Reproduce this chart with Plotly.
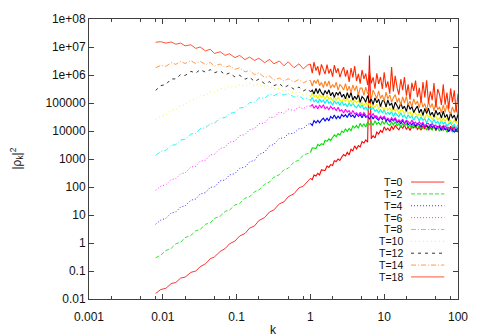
import plotly.graph_objects as go

# wavenumbers k (shared by every time step)
k_values = [
    0.008, 0.0094, 0.011, 0.013, 0.015, 0.0175, 0.02, 0.024, 0.028, 0.032,
    0.038, 0.044, 0.05, 0.06, 0.07, 0.08, 0.095, 0.11, 0.13, 0.15,
    0.175, 0.2, 0.24, 0.28, 0.32, 0.38, 0.44, 0.5, 0.6, 0.7,
    0.8, 0.92,
    1.0, 1.06, 1.12, 1.19, 1.26, 1.33, 1.41, 1.50, 1.58, 1.68,
    1.78, 1.88, 2.0, 2.11, 2.24, 2.37, 2.51, 2.66, 2.82, 2.99,
    3.16, 3.35, 3.55, 3.76, 3.98, 4.22, 4.47, 4.73, 5.01, 5.31,
    5.62, 5.96, 6.31, 6.68, 7.08, 7.5, 7.94, 8.41, 8.91, 9.44,
    10, 10.6, 11.2, 11.9, 12.6, 13.3, 14.1, 15.0, 15.8, 16.8,
    17.8, 18.8, 20.0, 21.1, 22.4, 23.7, 25.1, 26.6, 28.2, 29.9,
    31.6, 33.5, 35.5, 37.6, 39.8, 42.2, 44.7, 47.3, 50.1, 53.1,
    56.2, 59.6, 63.1, 66.8, 70.8, 75.0, 79.4, 84.1, 89.1, 94.4,
    100,
]

# log10 |rho_k|^2 for each time step
log10_T0 = [
    -1.80, -1.66, -1.62, -1.45, -1.41, -1.25, -1.22, -1.05, -1.00, -0.85,
    -0.74, -0.56, -0.50, -0.30, -0.20, -0.03, 0.07, 0.25, 0.34, 0.53,
    0.61, 0.80, 0.91, 1.11, 1.18, 1.40, 1.47, 1.65, 1.76, 1.97,
    2.03, 2.22,
    2.31, 2.26, 2.43, 2.39, 2.49, 2.43, 2.61, 2.60, 2.59, 2.75,
    2.70, 2.80, 2.77, 2.94, 2.91, 3.00, 2.95, 3.07, 3.16, 3.11,
    3.24, 3.15, 3.35, 3.29, 3.47, 3.36, 3.48, 3.43, 3.62, 3.57,
    3.68, 3.60, 6.70, 3.72, 3.83, 3.75, 3.96, 3.89, 4.02, 3.94,
    4.15, 4.03, 4.10, 4.00, 4.18, 4.05, 4.20, 4.10, 4.04, 4.19,
    4.09, 4.22, 4.05, 4.16, 4.02, 4.18, 4.11, 4.21, 4.06, 4.15,
    4.03, 4.19, 4.07, 4.21, 4.03, 4.13, 4.06, 4.20, 4.01, 4.16,
    4.12, 4.03, 4.20, 4.04, 4.14, 4.01, 4.17, 4.06, 4.16, 3.98,
    4.13,
]
log10_T2 = [
    -0.53, -0.43, -0.27, -0.19, -0.03, 0.03, 0.19, 0.27, 0.44, 0.48,
    0.67, 0.72, 0.88, 0.96, 1.13, 1.17, 1.36, 1.41, 1.60, 1.65,
    1.83, 1.89, 2.10, 2.18, 2.35, 2.44, 2.62, 2.67, 2.89, 2.96,
    3.14, 3.20,
    3.23, 3.40, 3.39, 3.37, 3.52, 3.47, 3.55, 3.51, 3.67, 3.63,
    3.72, 3.66, 3.77, 3.86, 3.80, 3.91, 3.85, 4.00, 3.95, 4.08,
    3.98, 4.09, 4.01, 4.18, 4.11, 4.20, 4.10, 4.28, 4.16, 4.25,
    4.14, 4.32, 4.22, 4.31, 4.20, 4.37, 4.24, 4.31, 4.21, 4.36,
    4.24, 4.36, 4.25, 4.20, 4.32, 4.22, 4.33, 4.18, 4.27, 4.13,
    4.26, 4.19, 4.27, 4.14, 4.21, 4.09, 4.23, 4.12, 4.24, 4.08,
    4.16, 4.09, 4.20, 4.03, 4.16, 4.11, 4.03, 4.18, 4.03, 4.12,
    3.99, 4.13, 4.02, 4.11, 3.95, 4.09, 4.08, 3.96, 4.11, 3.99,
    4.05,
]
log10_T4 = [
    0.67, 0.82, 0.88, 1.07, 1.11, 1.29, 1.32, 1.53, 1.57, 1.75,
    1.80, 1.99, 2.00, 2.22, 2.25, 2.43, 2.48, 2.67, 2.71, 2.90,
    2.95, 3.16, 3.25, 3.47, 3.52, 3.74, 3.75, 3.90, 3.92, 4.09,
    4.08, 4.24,
    4.27, 4.20, 4.37, 4.29, 4.38, 4.29, 4.39, 4.46, 4.36, 4.46,
    4.36, 4.52, 4.45, 4.57, 4.44, 4.53, 4.45, 4.59, 4.51, 4.58,
    4.48, 4.63, 4.51, 4.57, 4.47, 4.62, 4.52, 4.59, 4.47, 4.61,
    4.49, 4.53, 4.43, 4.55, 4.43, 4.54, 4.44, 4.39, 4.50, 4.41,
    4.50, 4.35, 4.43, 4.31, 4.43, 4.36, 4.43, 4.30, 4.36, 4.26,
    4.38, 4.27, 4.37, 4.22, 4.29, 4.22, 4.32, 4.16, 4.27, 4.23,
    4.15, 4.28, 4.14, 4.21, 4.10, 4.22, 4.13, 4.20, 4.05, 4.16,
    4.16, 4.03, 4.16, 4.05, 4.09, 3.97, 4.10, 4.04, 3.96, 4.08,
    3.96,
]
log10_T6 = [
    1.88, 2.03, 2.08, 2.27, 2.30, 2.48, 2.50, 2.71, 2.74, 2.92,
    2.96, 3.15, 3.17, 3.38, 3.42, 3.60, 3.64, 3.83, 3.87, 4.05,
    4.08, 4.26, 4.29, 4.49, 4.48, 4.68, 4.63, 4.78, 4.73, 4.86,
    4.79, 4.90,
    4.88, 4.94, 4.82, 4.90, 4.79, 4.93, 4.83, 4.94, 4.79, 4.86,
    4.76, 4.88, 4.79, 4.84, 4.72, 4.85, 4.71, 4.76, 4.64, 4.78,
    4.67, 4.73, 4.60, 4.73, 4.61, 4.65, 4.55, 4.67, 4.55, 4.66,
    4.56, 4.51, 4.62, 4.53, 4.62, 4.47, 4.54, 4.42, 4.53, 4.46,
    4.53, 4.40, 4.46, 4.36, 4.48, 4.38, 4.48, 4.33, 4.40, 4.33,
    4.43, 4.27, 4.38, 4.34, 4.26, 4.39, 4.25, 4.32, 4.21, 4.33,
    4.24, 4.31, 4.16, 4.27, 4.27, 4.15, 4.28, 4.17, 4.21, 4.09,
    4.22, 4.16, 4.08, 4.20, 4.08, 4.13, 4.03, 4.17, 4.06, 4.13,
    4.01,
]
log10_T8 = [
    3.13, 3.27, 3.31, 3.49, 3.51, 3.68, 3.70, 3.89, 3.92, 4.08,
    4.11, 4.27, 4.28, 4.46, 4.48, 4.63, 4.66, 4.82, 4.85, 5.01,
    5.03, 5.18, 5.17, 5.32, 5.26, 5.37, 5.28, 5.34, 5.21, 5.26,
    5.14, 5.18,
    5.08, 5.20, 5.04, 5.11, 5.00, 5.14, 5.04, 5.10, 4.98, 5.13,
    4.99, 5.05, 4.92, 5.08, 4.97, 5.04, 4.91, 5.06, 4.92, 4.97,
    4.87, 5.01, 4.88, 5.00, 4.89, 4.83, 4.94, 4.84, 4.94, 4.78,
    4.86, 4.72, 4.84, 4.77, 4.84, 4.70, 4.76, 4.64, 4.77, 4.65,
    4.76, 4.59, 4.67, 4.59, 4.70, 4.52, 4.65, 4.59, 4.51, 4.65,
    4.50, 4.57, 4.44, 4.58, 4.47, 4.54, 4.38, 4.51, 4.50, 4.36,
    4.51, 4.38, 4.44, 4.29, 4.44, 4.37, 4.29, 4.41, 4.28, 4.34,
    4.22, 4.37, 4.25, 4.31, 4.18, 4.25, 4.30, 4.16, 4.24, 4.09,
    4.23,
]
log10_T10 = [
    4.40, 4.53, 4.57, 4.74, 4.76, 4.92, 4.93, 5.11, 5.13, 5.27,
    5.26, 5.40, 5.37, 5.51, 5.48, 5.60, 5.56, 5.66, 5.60, 5.70,
    5.62, 5.69, 5.57, 5.62, 5.49, 5.52, 5.41, 5.48, 5.34, 5.39,
    5.28, 5.34,
    5.21, 5.36, 5.22, 5.28, 5.15, 5.31, 5.19, 5.26, 5.13, 5.28,
    5.14, 5.19, 5.08, 5.22, 5.09, 5.21, 5.10, 5.04, 5.16, 5.06,
    5.17, 5.01, 5.10, 4.96, 5.09, 5.02, 5.09, 4.95, 5.01, 4.89,
    5.03, 4.90, 5.02, 4.85, 4.92, 4.85, 4.96, 4.77, 4.90, 4.84,
    4.76, 4.90, 4.74, 4.82, 4.69, 4.82, 4.71, 4.79, 4.62, 4.75,
    4.74, 4.61, 4.75, 4.62, 4.68, 4.53, 4.68, 4.61, 4.52, 4.65,
    4.52, 4.58, 4.45, 4.61, 4.49, 4.54, 4.41, 4.49, 4.53, 4.39,
    4.47, 4.33, 4.46, 4.35, 4.47, 4.30, 4.37, 4.26, 4.39, 4.29,
    4.35,
]
log10_T12 = [
    5.45, 5.62, 5.66, 5.86, 5.86, 6.02, 5.98, 6.13, 6.07, 6.19,
    6.10, 6.19, 6.08, 6.15, 6.01, 6.07, 5.93, 5.99, 5.85, 5.92,
    5.77, 5.85, 5.69, 5.76, 5.62, 5.69, 5.55, 5.63, 5.49, 5.57,
    5.43, 5.51,
    5.40, 5.46, 5.32, 5.52, 5.34, 5.51, 5.37, 5.28, 5.45, 5.32,
    5.47, 5.26, 5.38, 5.20, 5.38, 5.29, 5.40, 5.21, 5.31, 5.15,
    5.37, 5.18, 5.38, 5.10, 5.24, 5.13, 5.32, 5.02, 5.23, 5.16,
    5.03, 5.26, 5.01, 5.15, 4.94, 5.18, 5.01, 5.14, 4.87, 5.08,
    5.08, 4.86, 5.11, 4.91, 5.00, 4.77, 5.03, 4.92, 4.78, 5.01,
    4.79, 4.89, 4.70, 4.97, 4.77, 4.88, 4.66, 4.79, 4.89, 4.65,
    4.78, 4.56, 4.81, 4.62, 4.82, 4.56, 4.67, 4.50, 4.74, 4.57,
    4.67, 4.46, 4.71, 4.48, 4.59, 4.37, 4.65, 4.46, 4.57, 4.35,
    4.61,
]
log10_T14 = [
    6.26, 6.34, 6.31, 6.44, 6.38, 6.49, 6.41, 6.51, 6.41, 6.49,
    6.37, 6.45, 6.32, 6.39, 6.27, 6.33, 6.20, 6.26, 6.11, 6.17,
    6.01, 6.08, 5.91, 5.96, 5.82, 5.89, 5.78, 5.87, 5.75, 5.84,
    5.72, 5.80,
    5.81, 5.60, 5.81, 5.71, 5.84, 5.62, 5.73, 5.55, 5.78, 5.60,
    5.79, 5.53, 5.66, 5.55, 5.74, 5.46, 5.66, 5.59, 5.46, 5.69,
    5.43, 5.60, 5.36, 5.65, 5.44, 5.61, 5.28, 5.53, 5.53, 5.27,
    5.57, 5.33, 5.43, 5.16, 5.46, 5.33, 5.16, 5.43, 5.16, 5.29,
    5.06, 5.39, 5.15, 5.29, 5.03, 5.19, 5.30, 5.02, 5.18, 4.92,
    5.22, 5.00, 5.24, 4.92, 5.07, 4.86, 5.15, 4.95, 5.07, 4.83,
    5.13, 4.85, 4.98, 4.73, 5.06, 4.84, 4.98, 4.72, 5.03, 4.76,
    4.86, 4.65, 4.93, 4.67, 4.93, 4.71, 4.60, 4.86, 4.66, 4.89,
    4.57,
]
log10_T18 = [
    7.17, 7.19, 7.14, 7.18, 7.10, 7.14, 7.04, 7.08, 6.95, 7.00,
    6.86, 6.92, 6.77, 6.83, 6.70, 6.76, 6.62, 6.70, 6.55, 6.64,
    6.52, 6.60, 6.44, 6.56, 6.40, 6.50, 6.33, 6.47, 6.26, 6.40,
    6.22, 6.36,
    6.39, 6.07, 6.46, 6.16, 6.31, 5.99, 6.38, 6.21, 6.03, 6.37,
    6.05, 6.22, 5.94, 6.35, 6.08, 6.24, 5.92, 6.13, 6.28, 5.94,
    6.18, 5.75, 6.25, 5.91, 6.32, 5.79, 6.04, 5.69, 6.18, 5.86,
    6.05, 5.64, 6.16, 5.70, 5.92, 5.51, 6.06, 5.68, 5.93, 5.50,
    6.10, 5.55, 5.77, 5.33, 6.28, 5.41, 5.97, 5.53, 5.30, 5.85,
    5.46, 5.93, 5.26, 5.67, 5.12, 5.72, 5.43, 5.80, 5.21, 5.54,
    5.01, 5.75, 5.20, 5.81, 4.99, 5.42, 5.10, 5.71, 4.84, 5.50,
    5.31, 4.93, 5.67, 4.94, 5.37, 4.78, 5.52, 5.02, 5.45, 4.67,
    5.33,
]

series_labels = ["T=0", "T=2", "T=4", "T=6", "T=8", "T=10", "T=12", "T=14", "T=18"]
series_logs = [log10_T0, log10_T2, log10_T4, log10_T6, log10_T8,
               log10_T10, log10_T12, log10_T14, log10_T18]
series_colors = ["#ff0000", "#00e000", "#0000ff", "#ff00ff", "#00f0f0",
                 "#f0f000", "#000000", "#ff8020", "#ff2a00"]
series_dash = ["solid", "4px,2px", "1px,2px", "1px,2px", "5px,2px,1px,2px",
               "1px,3px", "3px,4px", "5px,2px,1px,2px", "solid"]

x_tickvals = [0.001, 0.01, 0.1, 1, 10, 100]
x_ticktext = ["0.001", "0.01", "0.1", "1", "10", "100"]
y_tickvals = [1e-2, 1e-1, 1, 10, 100, 1e3, 1e4, 1e5, 1e6, 1e7, 1e8]
y_ticktext = ["0.01", "0.1", "1", "10", "100", "1000", "10000", "100000",
              "1e+06", "1e+07", "1e+08"]
x_minor = [m * d for d in (0.001, 0.01, 0.1, 1, 10) for m in (2, 5, 8)]

# Beyond k = 1 the spectra are densely sampled and noisy; draw that part
# with a slightly heavier solid stroke so the scatter reads as a band.
split = k_values.index(1.0)

fig = go.Figure()
for lab, logs, col, dash in zip(series_labels, series_logs, series_colors, series_dash):
    power = [10 ** v for v in logs]
    fig.add_trace(go.Scatter(
        x=k_values[:split + 1], y=power[:split + 1], mode="lines", name=lab,
        line=dict(color=col, width=0.8, dash=dash), showlegend=False,
        hoverinfo="skip",
    ))
    fig.add_trace(go.Scatter(
        x=k_values[split:], y=power[split:], mode="lines", name=lab,
        line=dict(color=col, width=1.1), showlegend=False,
        hoverinfo="skip",
    ))

# plot-area geometry in pixels (used for the key and axis titles)
W, H = 480, 336
ML, MR, MT, MB = 89, 14, 13, 35
PW, PH = W - ML - MR, H - MT - MB


def px_x(px):
    return (px - ML) / PW


def px_y(py):
    return 1 - (py - MT) / PH


font = dict(family="Liberation Sans, Arial, sans-serif", size=12, color="#111111")
key_font = dict(family="Liberation Sans, Arial, sans-serif", size=10.5, color="#111111")

annotations = []
shapes = []
for i, (lab, col, dash) in enumerate(zip(series_labels, series_colors, series_dash)):
    yy = px_y(180.7 + 12.2 * i)
    annotations.append(dict(
        text=lab, x=px_x(411), y=yy, xref="paper", yref="paper",
        xanchor="right", yanchor="middle", showarrow=False, font=key_font,
        borderpad=0,
    ))
    shapes.append(dict(
        type="line", xref="paper", yref="paper", x0=px_x(418), x1=px_x(452),
        y0=yy, y1=yy, line=dict(color=col, width=0.8, dash=dash),
    ))

annotations.append(dict(
    text="k", x=0.5, y=px_y(333), xref="paper", yref="paper",
    xanchor="center", yanchor="middle", showarrow=False, font=font,
))
annotations.append(dict(
    text="|ρ<sub>k</sub>|<sup>2</sup>", x=px_x(15), y=px_y(157),
    xref="paper", yref="paper", xanchor="center", yanchor="middle",
    textangle=-90, showarrow=False, font=font,
))

axis_common = dict(
    type="log", showgrid=False, zeroline=False, showline=True,
    linecolor="#404040", linewidth=1, mirror="ticks", ticks="inside",
    ticklen=5, tickcolor="#404040", tickwidth=1, tickfont=font,
    tickmode="array",
)

fig.update_layout(
    width=W, height=H,
    margin=dict(l=ML, r=MR, t=MT, b=MB, pad=0),
    paper_bgcolor="white", plot_bgcolor="white",
    xaxis=dict(range=[-3, 2], tickvals=x_tickvals, ticktext=x_ticktext,
               ticklabelstandoff=7,
               minor=dict(tickmode="array", tickvals=x_minor, ticks="inside",
                          ticklen=3, tickcolor="#404040"),
               **axis_common),
    yaxis=dict(range=[-2, 8], tickvals=y_tickvals, ticktext=y_ticktext,
               ticklabelstandoff=0, **axis_common),
    annotations=annotations,
    shapes=shapes,
    showlegend=False,
)

fig.write_html("out.html")
